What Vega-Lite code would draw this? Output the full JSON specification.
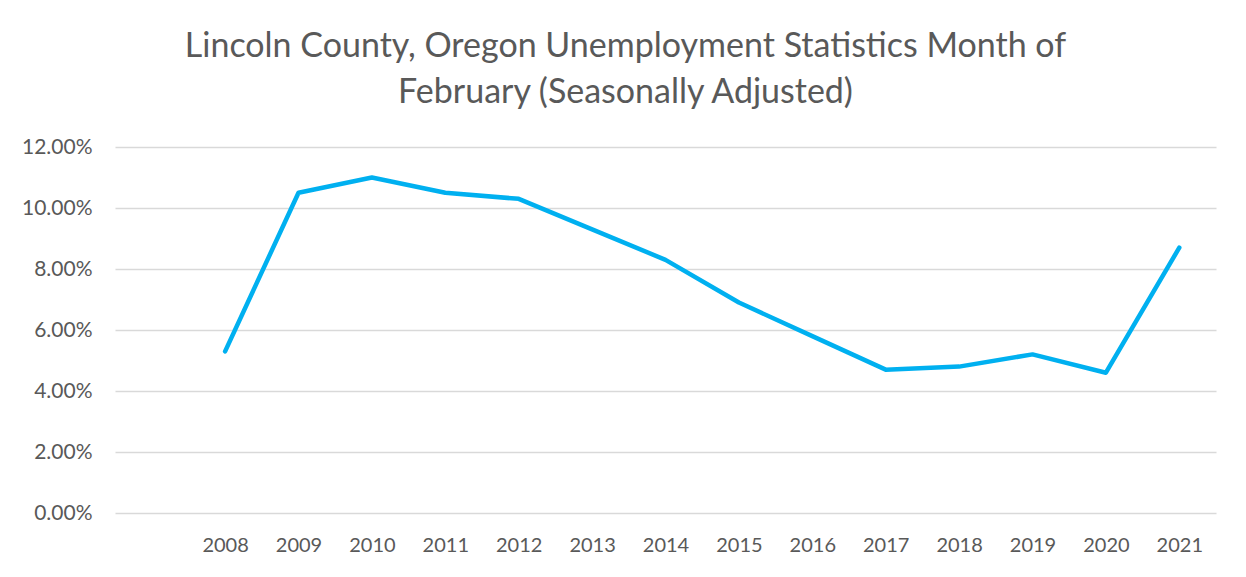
{
  "$schema": "https://vega.github.io/schema/vega-lite/v6.json",
  "width": 1101,
  "height": 366,
  "autosize": "none",
  "padding": {"left": 115, "top": 147, "right": 30, "bottom": 64},
  "background": "white",
  "title": {
    "text": ["Lincoln County, Oregon Unemployment Statistics Month of", "February (Seasonally Adjusted)"],
    "font": "Lato",
    "fontSize": 34,
    "fontWeight": 400,
    "color": "#595959",
    "lineHeight": 46,
    "anchor": "middle",
    "dx": -40,
    "offset": 26
  },
  "data": {
    "values": [
      {"year": 2008, "rate": 0.053},
      {"year": 2009, "rate": 0.105},
      {"year": 2010, "rate": 0.110},
      {"year": 2011, "rate": 0.105},
      {"year": 2012, "rate": 0.103},
      {"year": 2013, "rate": 0.093},
      {"year": 2014, "rate": 0.083},
      {"year": 2015, "rate": 0.069},
      {"year": 2016, "rate": 0.058},
      {"year": 2017, "rate": 0.047},
      {"year": 2018, "rate": 0.048},
      {"year": 2019, "rate": 0.052},
      {"year": 2020, "rate": 0.046},
      {"year": 2021, "rate": 0.087}
    ]
  },
  "mark": {"type": "line", "color": "#00b0f0", "strokeWidth": 4.5, "strokeCap": "round", "strokeJoin": "round"},
  "encoding": {
    "x": {
      "field": "year",
      "type": "quantitative",
      "scale": {"domain": [2006.5, 2021.5], "nice": false, "zero": false},
      "axis": {
        "title": null,
        "values": [2008, 2009, 2010, 2011, 2012, 2013, 2014, 2015, 2016, 2017, 2018, 2019, 2020, 2021],
        "format": "d",
        "grid": false,
        "domain": false,
        "ticks": false,
        "labelPadding": 22,
        "labelFont": "Lato",
        "labelFontSize": 20,
        "labelColor": "#595959"
      }
    },
    "y": {
      "field": "rate",
      "type": "quantitative",
      "scale": {"domain": [0, 0.12], "nice": false},
      "axis": {
        "title": null,
        "values": [0, 0.02, 0.04, 0.06, 0.08, 0.1, 0.12],
        "format": ".2%",
        "grid": true,
        "gridColor": "#d9d9d9",
        "gridWidth": 1.3,
        "domain": false,
        "ticks": false,
        "labelPadding": 23,
        "labelFont": "Lato",
        "labelFontSize": 21,
        "labelColor": "#595959"
      }
    }
  },
  "config": {"view": {"stroke": null}}
}
